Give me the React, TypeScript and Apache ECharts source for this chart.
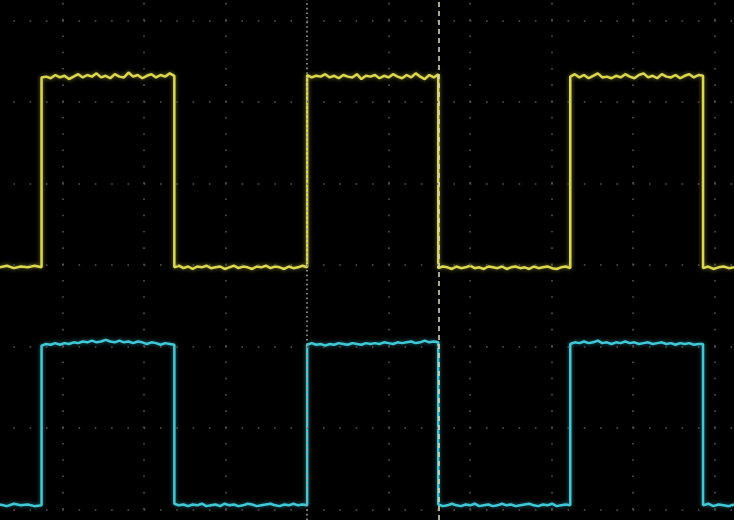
import React, { useEffect, useRef } from "react";
import * as echarts from "echarts";

// Time axis in divisions (0 = trigger / centre line), vertical in divisions
const xStart = -3.77;
const xEnd = 5.24;
const yMin = -3.13;
const yMax = 3.25;

// transition times (div)
const edges = [-3.26, -1.63, 0, 1.61, 3.23, 4.86];
const cursorX = 1.61;

// graticule
const gridX = [-3, -2, -1, 1, 2, 3, 4, 5];
const centreX = [0];
const gridY = [-3, -2, -1, 0, 1, 2, 3];

// CH1 (yellow) levels per segment, low / high alternating
const yellowSegments: number[][] = [
  [-0.03, -0.01, -0.04, -0.02, -0.03, -0.01, -0.03],
  [2.3, 2.31, 2.29, 2.33, 2.3, 2.32, 2.28, 2.31, 2.34, 2.3, 2.33, 2.31, 2.35, 2.3, 2.32, 2.29, 2.34, 2.31, 2.3, 2.36, 2.31, 2.33, 2.29, 2.32, 2.34, 2.3, 2.33, 2.31, 2.35, 2.32],
  [-0.03, -0.01, -0.04, -0.02, -0.05, -0.02, -0.03, -0.01, -0.04, -0.03, -0.02, -0.05, -0.03, -0.01, -0.04, -0.02, -0.03, -0.05, -0.02, -0.03, -0.01, -0.04, -0.02, -0.03, -0.05, -0.02, -0.04, -0.03, -0.01, -0.03],
  [2.33, 2.3, 2.32, 2.31, 2.34, 2.3, 2.32, 2.29, 2.33, 2.31, 2.3, 2.34, 2.28, 2.32, 2.31, 2.33, 2.29, 2.32, 2.3, 2.34, 2.31, 2.29, 2.33, 2.3, 2.35, 2.31, 2.28, 2.33, 2.3, 2.34],
  [-0.04, -0.02, -0.03, -0.05, -0.02, -0.04, -0.03, -0.01, -0.04, -0.03, -0.05, -0.02, -0.03, -0.04, -0.02, -0.05, -0.03, -0.02, -0.04, -0.03, -0.05, -0.02, -0.04, -0.03, -0.02, -0.04, -0.05, -0.03, -0.02, -0.04],
  [2.31, 2.34, 2.3, 2.33, 2.29, 2.32, 2.35, 2.3, 2.31, 2.29, 2.32, 2.3, 2.34, 2.31, 2.29, 2.33, 2.35, 2.3, 2.32, 2.29, 2.34, 2.31, 2.3, 2.33, 2.29, 2.32, 2.34, 2.3, 2.33, 2.32],
  [-0.04, -0.02, -0.05, -0.03, -0.02, -0.04, -0.03],
];

// CH2 (cyan) levels per segment
const cyanSegments: number[][] = [
  [-2.94, -2.96, -2.93, -2.95, -2.94, -2.96, -2.95],
  [-0.99, -0.97, -0.98, -0.96, -0.98, -0.96, -0.97, -0.95, -0.96, -0.94, -0.95, -0.93, -0.95, -0.94, -0.92, -0.94, -0.95, -0.93, -0.95, -0.94, -0.96, -0.94, -0.95, -0.97, -0.95, -0.96, -0.98, -0.96, -0.97, -0.98],
  [-2.93, -2.95, -2.94, -2.96, -2.94, -2.95, -2.93, -2.96, -2.95, -2.94, -2.96, -2.93, -2.95, -2.94, -2.96, -2.95, -2.93, -2.94, -2.96, -2.95, -2.94, -2.93, -2.95, -2.96, -2.94, -2.95, -2.93, -2.95, -2.94, -2.95],
  [-0.98, -0.96, -0.98, -0.97, -0.99, -0.97, -0.98, -0.96, -0.97, -0.98, -0.96, -0.97, -0.98, -0.96, -0.97, -0.96, -0.97, -0.95, -0.96, -0.97, -0.95, -0.96, -0.95, -0.94, -0.96, -0.95, -0.93, -0.95, -0.94, -0.95],
  [-2.94, -2.96, -2.95, -2.93, -2.95, -2.96, -2.94, -2.95, -2.93, -2.96, -2.95, -2.94, -2.96, -2.95, -2.93, -2.95, -2.94, -2.96, -2.95, -2.94, -2.93, -2.95, -2.96, -2.94, -2.95, -2.93, -2.96, -2.95, -2.94, -2.95],
  [-0.97, -0.95, -0.96, -0.94, -0.96, -0.95, -0.93, -0.96, -0.95, -0.97, -0.95, -0.96, -0.94, -0.96, -0.95, -0.97, -0.96, -0.95, -0.97, -0.96, -0.95, -0.97, -0.96, -0.98, -0.96, -0.97, -0.96, -0.98, -0.97, -0.97],
  [-2.95, -2.93, -2.96, -2.94, -2.95, -2.96, -2.94],
];

function buildTrace(segments: number[][]): number[][] {
  const bounds = [xStart, ...edges, xEnd];
  const pts: number[][] = [];
  segments.forEach((vals, i) => {
    const a = bounds[i];
    const b = bounds[i + 1];
    vals.forEach((v, j) => {
      pts.push([a + ((b - a) * j) / (vals.length - 1), v]);
    });
  });
  return pts;
}

export default function App() {
  const ref = useRef<HTMLDivElement>(null);
  useEffect(() => {
    if (!ref.current) return;
    const chart = echarts.init(ref.current, null, { renderer: "svg" });
    const dotStyleV = { color: "#555555", width: 1.6, type: [1.6, 14.7], dashOffset: 5.8, opacity: 1 };
    const dotStyleH = { color: "#555555", width: 1.6, type: [1.6, 14.7], dashOffset: 2.7, opacity: 1 };
    chart.setOption({
      animation: false,
      backgroundColor: "#000000",
      grid: { left: 0, right: 0, top: 0, bottom: 0 },
      xAxis: {
        type: "value",
        min: xStart,
        max: xEnd,
        axisLine: { show: false },
        axisTick: { show: false },
        axisLabel: { show: false },
        splitLine: { show: false },
      },
      yAxis: {
        type: "value",
        min: yMin,
        max: yMax,
        axisLine: { show: false },
        axisTick: { show: false },
        axisLabel: { show: false },
        splitLine: { show: false },
      },
      series: [
        {
          type: "line",
          data: [],
          silent: true,
          z: 1,
          markLine: {
            silent: true,
            symbol: "none",
            label: { show: false },
            emphasis: { disabled: true },
            data: [
              ...gridX.map((v) => ({ xAxis: v, lineStyle: dotStyleV })),
              ...gridY.map((v) => ({ yAxis: v, lineStyle: dotStyleH })),
              ...centreX.map((v) => ({
                xAxis: v,
                lineStyle: { color: "#a09e92", width: 1.6, type: [1.6, 3], opacity: 1 },
              })),
              {
                xAxis: cursorX,
                lineStyle: { color: "#d8d4b0", width: 1.6, type: [5, 4], opacity: 1 },
              },
            ],
          },
        },
        {
          name: "CH1",
          type: "line",
          data: buildTrace(yellowSegments),
          showSymbol: false,
          z: 3,
          lineStyle: {
            color: "#dcd84e",
            width: 2.5,
            shadowColor: "rgba(220,216,78,0.55)",
            shadowBlur: 4,
          },
        },
        {
          name: "CH2",
          type: "line",
          data: buildTrace(cyanSegments),
          showSymbol: false,
          z: 3,
          lineStyle: {
            color: "#40c8d6",
            width: 2.5,
            shadowColor: "rgba(64,200,214,0.55)",
            shadowBlur: 4,
          },
        },
      ],
    });
    return () => chart.dispose();
  }, []);
  return (
    <div
      ref={ref}
      style={{ position: "fixed", left: 0, top: 0, width: 734, height: 520, background: "#000" }}
    />
  );
}
